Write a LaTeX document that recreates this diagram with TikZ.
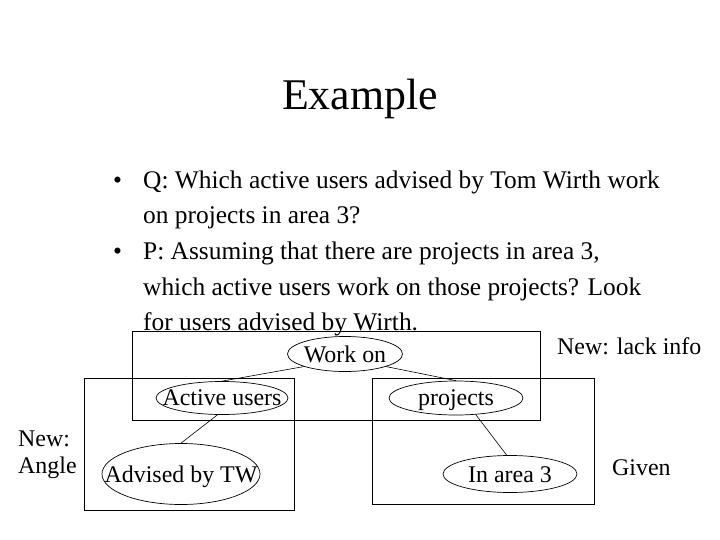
\documentclass[tikz,border=0pt]{standalone}
\usepackage{fontspec}
\setmainfont{Liberation Serif}
\usetikzlibrary{shapes.geometric}
\begin{document}
\begin{tikzpicture}[x=1bp,y=-1bp,
  ell/.style={draw, ellipse, inner sep=0pt, line width=0.7bp},
  frame/.style={draw, rectangle, inner sep=0pt, line width=0.8bp},
  lbl/.style={inner sep=0pt, anchor=base, font=\fontsize{24}{28}\selectfont},
  side/.style={inner sep=0pt, anchor=base west, font=\fontsize{24}{28}\selectfont},
  body/.style={inner sep=0pt, anchor=base west, font=\fontsize{25.5}{30}\selectfont},
  conn/.style={line width=0.6bp}]
\useasboundingbox (0,0) rectangle (720,540);

% title
\node[inner sep=0pt, anchor=base, font=\fontsize{44}{50}\selectfont] (title) at (360,110) {Example};

% bullets
\node[body] (b1) at (113,189) {•};
\node[body] (q1) at (143,189) {Q: Which active users advised by Tom Wirth work};
\node[body] (q2) at (143,224) {on projects in area 3?};
\node[body] (b2) at (113,260) {•};
\node[body] (p1) at (143,260) {P: Assuming that there are projects in area 3,};
\node[body] (p2) at (143,295) {which active users work on those projects? Look};
\node[body] (p3) at (143,330) {for users advised by Wirth.};

% boxes
\node[frame, minimum width=408bp, minimum height=89bp] (topbox) at (336,375.5) {};
\node[frame, minimum width=210bp, minimum height=132bp] (leftbox) at (189,444) {};
\node[frame, minimum width=222bp, minimum height=126bp] (rightbox) at (483,441) {};

% ellipses
\node[ell, minimum width=115bp, minimum height=35bp] (wo) at (345,354) {};
\node[ell, minimum width=132bp, minimum height=33bp] (au) at (222,398) {};
\node[ell, minimum width=134bp, minimum height=34bp] (pr) at (456,398) {};
\node[ell, minimum width=158bp, minimum height=61bp] (ad) at (181,474) {};
\node[ell, minimum width=134bp, minimum height=37bp] (ia) at (510,474) {};

\node[lbl] (wot) at (345,362) {Work on};
\node[lbl] (aut) at (222,405) {Active users};
\node[lbl] (prt) at (456,405) {projects};
\node[lbl] (adt) at (181,482) {Advised by TW};
\node[lbl] (iat) at (510,482) {In area 3};

% connectors
\draw[conn] (wo.197) -- (au.north);
\draw[conn] (wo.343) -- (pr.north);
\draw[conn] (au.255) -- (ad.north);
\draw[conn] (pr.-40) -- (ia.100);

% side labels
\node[side] (nli) at (557,354) {New: lack info};
\node[side] (new) at (18,446) {New:};
\node[side] (ang) at (18,473) {Angle};
\node[side] (giv) at (612,475) {Given};
\end{tikzpicture}
\end{document}
